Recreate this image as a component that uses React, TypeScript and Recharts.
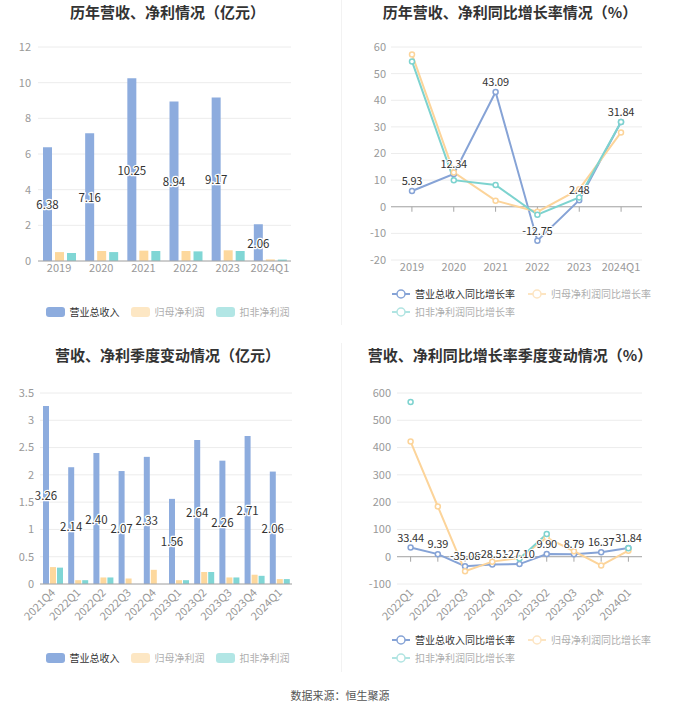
import React from 'react';
import { BarChart, Bar, LineChart, Line, XAxis, YAxis, CartesianGrid, LabelList, ReferenceLine } from 'recharts';

// ---- data ----
const years = ['2019', '2020', '2021', '2022', '2023', '2024Q1'];
const revenue = [6.38, 7.16, 10.25, 8.94, 9.17, 2.06];
const netProfit = [0.5, 0.56, 0.58, 0.56, 0.6, 0.09];
const deductedProfit = [0.45, 0.5, 0.56, 0.54, 0.56, 0.08];

const revenueGrowth = [5.93, 12.34, 43.09, -12.75, 2.48, 31.84];
const netProfitGrowth = [57.2, 12.9, 2.3, -1.9, 6.6, 27.9];
const deductedGrowth = [54.6, 10.0, 8.2, -3.0, 3.5, 31.8];

const quarters = ['2021Q4', '2022Q1', '2022Q2', '2022Q3', '2022Q4', '2023Q1', '2023Q2', '2023Q3', '2023Q4', '2024Q1'];
const qRevenue = [3.26, 2.14, 2.4, 2.07, 2.33, 1.56, 2.64, 2.26, 2.71, 2.06];
const qNetProfit = [0.31, 0.07, 0.12, 0.1, 0.26, 0.07, 0.22, 0.12, 0.17, 0.09];
const qDeducted: (number | null)[] = [0.3, 0.07, 0.12, null, null, 0.07, 0.22, 0.12, 0.15, 0.09];

const growthQuarters = ['2022Q1', '2022Q2', '2022Q3', '2022Q4', '2023Q1', '2023Q2', '2023Q3', '2023Q4', '2024Q1'];
const qRevenueGrowth = [33.44, 9.39, -35.08, -28.51, -27.1, 9.9, 8.79, 16.37, 31.84];
const qNetProfitGrowth = [422, 184, -53, -18, -5, 70, 20, -32, 22];
const qDeductedGrowth: (number | null)[] = [567, null, null, null, -7, 83, null, null, 31];

const annualTicks = [0, 2, 4, 6, 8, 10, 12];
const annualGrowthTicks = [-20, -10, 0, 10, 20, 30, 40, 50, 60];
const quarterTicks = [0, 0.5, 1, 1.5, 2, 2.5, 3, 3.5];
const quarterGrowthTicks = [-100, 0, 100, 200, 300, 400, 500, 600];

const barLegend = ['营业总收入', '归母净利润', '扣非净利润'];
const lineLegend = ['营业总收入同比增长率', '归母净利润同比增长率', '扣非净利润同比增长率'];

// ---- tables built from the arrays ----
const annualData = years.map((name, i) => ({ name, revenue: revenue[i], net: netProfit[i], ded: deductedProfit[i] }));
const annualGrowthData = years.map((name, i) => ({ name, rev: revenueGrowth[i], net: netProfitGrowth[i], ded: deductedGrowth[i] }));
const quarterData = quarters.map((name, i) => ({ name, revenue: qRevenue[i], net: qNetProfit[i], ded: qDeducted[i] }));
const quarterGrowthData = growthQuarters.map((name, i) => ({ name, rev: qRevenueGrowth[i], net: qNetProfitGrowth[i], ded: qDeductedGrowth[i] }));

// ---- styles ----
const FONT = "'Noto Sans CJK SC','Noto Sans',sans-serif";
const BLUE = '#8DACDE';
const ORANGE = '#FDD89D';
const TEAL = '#80D6D5';
const LBLUE = '#86A3D6';
const LORANGE = '#FCD49A';
const LTEAL = '#7DD3CF';
const GRID = '#ECECEC';
const AXIS = '#A6A6A6';
const TICK = { fill: '#999', fontSize: 11 };

const getBox = (p: any) => {
  const vb = p.viewBox || {};
  return {
    x: vb.x ?? p.x ?? 0,
    y: vb.y ?? p.y ?? 0,
    width: vb.width ?? p.width ?? 0,
    height: vb.height ?? p.height ?? 0,
  };
};

const BarValueLabel = (p: any) => {
  const b = getBox(p);
  if (p.value == null) return null;
  return (
    <text
      x={b.x + b.width / 2}
      y={b.y + b.height / 2}
      textAnchor="middle"
      dominantBaseline="central"
      fontSize={11.5}
      fill="#333"
      stroke="#fff"
      strokeWidth={2.5}
      strokeLinejoin="round"
      paintOrder="stroke"
    >
      {Number(p.value).toFixed(2)}
    </text>
  );
};

const PointValueLabel = (p: any) => {
  const b = getBox(p);
  if (p.value == null) return null;
  return (
    <text
      x={b.x + b.width / 2}
      y={b.y - 11}
      textAnchor="middle"
      dominantBaseline="central"
      fontSize={11}
      letterSpacing={-0.2}
      fill="#333"
      stroke="#fff"
      strokeWidth={2}
      strokeLinejoin="round"
      paintOrder="stroke"
    >
      {Number(p.value).toFixed(2)}
    </text>
  );
};

const zeroAxis = (n: number) => (p: any) => {
  const { x1, y1, x2, y2 } = p;
  const step = (x2 - x1) / n;
  return (
    <g>
      <line x1={x1} y1={y1} x2={x2} y2={y2} stroke={AXIS} strokeWidth={1} />
      {Array.from({ length: n }, (_, i) => (
        <line key={i} x1={x1 + (i + 0.5) * step} x2={x1 + (i + 0.5) * step} y1={y1} y2={y1 + 5} stroke={AXIS} strokeWidth={1} />
      ))}
    </g>
  );
};

const RotatedTick = (p: any) => {
  const { x, y, payload } = p;
  return (
    <g transform={`translate(${x},${y + 6})`}>
      <text x={0} y={0} textAnchor="end" dominantBaseline="central" transform="rotate(-45)" fontSize={11} fill="#999">
        {payload.value}
      </text>
    </g>
  );
};

const dotStyle = (c: string) => ({ r: 2.5, fill: '#fff', stroke: c, strokeWidth: 1.5 });

const Title = ({ text, left, top, width }: any) => (
  <div
    style={{
      position: 'absolute', left, top, width, textAlign: 'center',
      fontSize: 15, fontWeight: 700, color: '#333', lineHeight: '18px',
    }}
  >
    {text}
  </div>
);

const BarLegend = ({ top }: any) => {
  const colors = [BLUE, ORANGE, TEAL];
  return (
    <div style={{ position: 'absolute', left: 0, top, width: 335, display: 'flex', justifyContent: 'center', alignItems: 'center', height: 14 }}>
      {barLegend.map((t, i) => (
        <div key={t} style={{ display: 'flex', alignItems: 'center', marginRight: i < 2 ? 11 : 0, opacity: i === 0 ? 1 : 0.6 }}>
          <div style={{ width: 19, height: 10, borderRadius: 3, background: colors[i], marginRight: 5 }} />
          <span style={{ fontSize: 10, color: i === 0 ? '#333' : '#777', lineHeight: '14px' }}>{t}</span>
        </div>
      ))}
    </div>
  );
};

const LineIcon = ({ color }: any) => (
  <svg width={20} height={12} style={{ marginRight: 4 }}>
    <line x1={1} y1={6} x2={19} y2={6} stroke={color} strokeWidth={2} />
    <circle cx={10} cy={6} r={4} fill="#fff" stroke={color} strokeWidth={1.5} />
  </svg>
);

const LineLegend = ({ left, top }: any) => {
  const colors = [LBLUE, LORANGE, LTEAL];
  const item = (i: number, l: number, t: number) => (
    <div key={i} style={{ position: 'absolute', left: l, top: t, display: 'flex', alignItems: 'center', height: 14, opacity: i === 0 ? 1 : 0.6 }}>
      <LineIcon color={colors[i]} />
      <span style={{ fontSize: 10, color: i === 0 ? '#333' : '#777', lineHeight: '14px' }}>{lineLegend[i]}</span>
    </div>
  );
  return (
    <>
      {item(0, left, top)}
      {item(1, left + 136, top)}
      {item(2, left, top + 18)}
    </>
  );
};

export default function App() {
  return (
    <div style={{ position: 'absolute', left: 0, top: 0, width: 680, height: 712, background: '#fff', fontFamily: FONT, overflow: 'hidden' }}>
      {/* separators */}
      <div style={{ position: 'absolute', left: 341, top: 0, width: 1, height: 325, background: '#F2F2F2' }} />
      <div style={{ position: 'absolute', left: 341, top: 343, width: 1, height: 329, background: '#F2F2F2' }} />

      <Title text="历年营收、净利情况（亿元）" left={0} top={3} width={335} />
      <Title text="历年营收、净利同比增长率情况（%）" left={340} top={3} width={340} />
      <Title text="营收、净利季度变动情况（亿元）" left={0} top={346} width={335} />
      <Title text="营收、净利同比增长率季度变动情况（%）" left={340} top={346} width={340} />

      {/* top-left: annual bars */}
      <div style={{ position: 'absolute', left: 0, top: 0 }}>
        <BarChart width={340} height={290} data={annualData} margin={{ top: 47, right: 49, bottom: 4, left: 0 }} barSize={9} barGap={3}>
          <CartesianGrid vertical={false} stroke={GRID} />
          <XAxis dataKey="name" tick={TICK} tickLine={false} axisLine={{ stroke: AXIS }} height={25} tickSize={3} tickMargin={0} interval={0} />
          <YAxis domain={[0, 12]} ticks={annualTicks} tick={TICK} axisLine={false} tickLine={false} width={38} tickSize={0} tickMargin={7} />
          <Bar dataKey="revenue" fill={BLUE} isAnimationActive={false}>
            <LabelList dataKey="revenue" content={BarValueLabel} />
          </Bar>
          <Bar dataKey="net" fill={ORANGE} isAnimationActive={false} />
          <Bar dataKey="ded" fill={TEAL} isAnimationActive={false} />
        </BarChart>
      </div>
      <BarLegend top={305} />

      {/* top-right: annual growth lines */}
      <div style={{ position: 'absolute', left: 340, top: 0 }}>
        <LineChart width={340} height={290} data={annualGrowthData} margin={{ top: 47, right: 38, bottom: 5, left: 0 }}>
          <CartesianGrid vertical={false} stroke={GRID} />
          <XAxis dataKey="name" tick={TICK} tickLine={false} axisLine={false} height={25} tickSize={3} tickMargin={0} interval={0} padding={{ left: 21, right: 21 }} />
          <YAxis domain={[-20, 60]} ticks={annualGrowthTicks} tick={TICK} axisLine={false} tickLine={false} width={51} tickSize={0} tickMargin={5} />
          <ReferenceLine y={0} shape={zeroAxis(annualGrowthData.length)} />
          <Line dataKey="rev" stroke={LBLUE} strokeWidth={2} dot={dotStyle(LBLUE)} isAnimationActive={false}>
            <LabelList dataKey="rev" content={PointValueLabel} />
          </Line>
          <Line dataKey="net" stroke={LORANGE} strokeWidth={2} dot={dotStyle(LORANGE)} isAnimationActive={false} />
          <Line dataKey="ded" stroke={LTEAL} strokeWidth={2} dot={dotStyle(LTEAL)} isAnimationActive={false} />
        </LineChart>
      </div>
      <LineLegend left={391} top={287} />

      {/* bottom-left: quarterly bars */}
      <div style={{ position: 'absolute', left: 0, top: 340 }}>
        <BarChart width={340} height={300} data={quarterData} margin={{ top: 53, right: 48, bottom: 6, left: 0 }} barSize={6} barGap={1}>
          <CartesianGrid vertical={false} stroke={GRID} />
          <XAxis dataKey="name" tick={<RotatedTick />} tickLine={false} axisLine={{ stroke: AXIS }} height={50} tickSize={0} tickMargin={0} interval={0} />
          <YAxis domain={[0, 3.5]} ticks={quarterTicks} tick={TICK} axisLine={false} tickLine={false} width={40} tickSize={0} tickMargin={6} />
          <Bar dataKey="revenue" fill={BLUE} isAnimationActive={false}>
            <LabelList dataKey="revenue" content={BarValueLabel} />
          </Bar>
          <Bar dataKey="net" fill={ORANGE} isAnimationActive={false} />
          <Bar dataKey="ded" fill={TEAL} isAnimationActive={false} />
        </BarChart>
      </div>
      <BarLegend top={651} />

      {/* bottom-right: quarterly growth lines */}
      <div style={{ position: 'absolute', left: 340, top: 340 }}>
        <LineChart width={340} height={300} data={quarterGrowthData} margin={{ top: 53, right: 38, bottom: 6, left: 0 }}>
          <CartesianGrid vertical={false} stroke={GRID} />
          <XAxis dataKey="name" tick={<RotatedTick />} tickLine={false} axisLine={false} height={50} tickSize={0} tickMargin={0} interval={0} padding={{ left: 13.6, right: 13.6 }} />
          <YAxis domain={[-100, 600]} ticks={quarterGrowthTicks} tick={TICK} axisLine={false} tickLine={false} width={57} tickSize={0} tickMargin={6} />
          <ReferenceLine y={0} shape={zeroAxis(quarterGrowthData.length)} />
          <Line dataKey="rev" stroke={LBLUE} strokeWidth={2} dot={dotStyle(LBLUE)} isAnimationActive={false}>
            <LabelList dataKey="rev" content={PointValueLabel} />
          </Line>
          <Line dataKey="net" stroke={LORANGE} strokeWidth={2} dot={dotStyle(LORANGE)} isAnimationActive={false} />
          <Line dataKey="ded" stroke={LTEAL} strokeWidth={2} dot={dotStyle(LTEAL)} isAnimationActive={false} />
        </LineChart>
      </div>
      <LineLegend left={391} top={633} />

      <div style={{ position: 'absolute', left: 0, top: 687, width: 680, textAlign: 'center', fontSize: 11, color: '#555', lineHeight: '16px' }}>
        数据来源：恒生聚源
      </div>
    </div>
  );
}
